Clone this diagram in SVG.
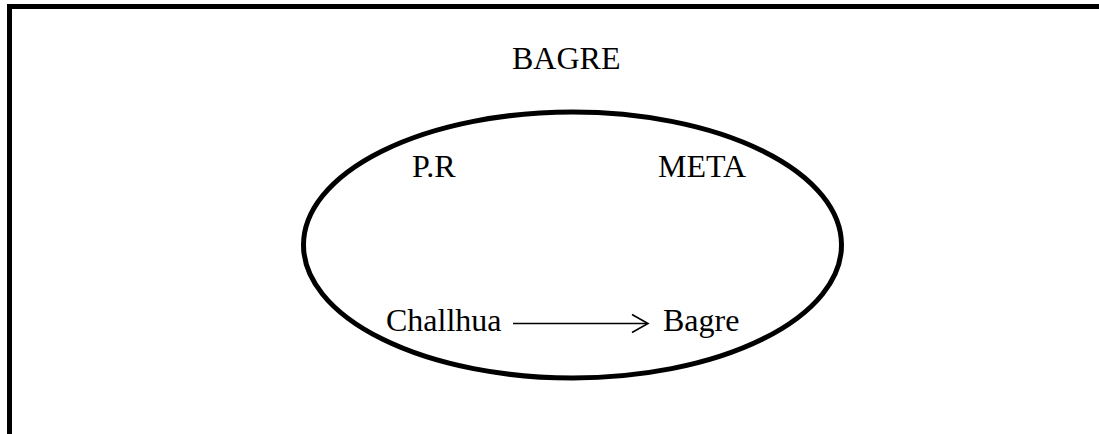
<svg xmlns="http://www.w3.org/2000/svg" width="1099" height="434" viewBox="0 0 1099 434">
<style>
.t{font-family:"Liberation Serif","Times New Roman",serif;font-size:32px;fill:#000}
.ln{fill:none;stroke:#000}
</style>
<rect width="1099" height="434" fill="#fff"/>
<g id="frame"><rect class="ln" x="9.5" y="6.5" width="1200" height="600" stroke-width="5"/></g>
<g id="title"><text class="t" x="512" y="69">BAGRE</text></g>
<g id="ellipse"><ellipse class="ln" cx="572.5" cy="245" rx="269" ry="133" stroke-width="5"/></g>
<g id="pr"><text class="t" x="412" y="177">P.R</text></g>
<g id="meta"><text class="t" x="658" y="177">META</text></g>
<g id="challhua"><text class="t" x="386" y="331">Challhua</text></g>
<g id="bagre"><text class="t" x="663" y="331">Bagre</text></g>
<g id="connectors">
<line class="ln" x1="513" y1="323.5" x2="647" y2="323.5" stroke-width="1.6"/>
<polyline class="ln" points="632,314.5 648,323.5 632,332.5" stroke-width="1.6"/>
</g>
</svg>
